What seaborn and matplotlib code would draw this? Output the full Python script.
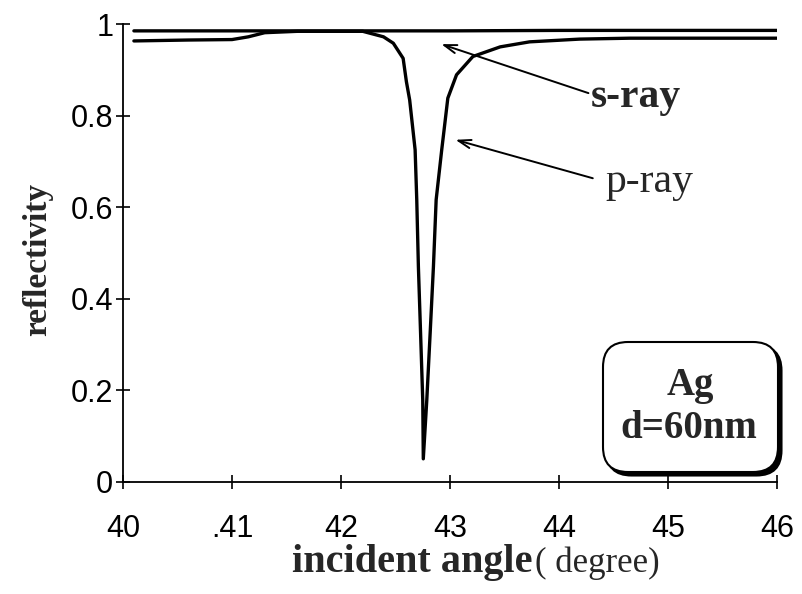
import matplotlib
matplotlib.use("Agg")
import matplotlib.pyplot as plt
import seaborn as sns
import pandas as pd
from matplotlib.patches import FancyBboxPatch

# ---- data ----
s_angle = [40.1, 41.0, 42.0, 43.0, 44.0, 45.0, 46.0]
s_refl = [0.985, 0.985, 0.985, 0.985, 0.986, 0.986, 0.986]

p_angle = [40.1, 40.6, 41.0, 41.15, 41.3, 41.6, 42.2, 42.39, 42.48, 42.57, 42.60,
           42.63, 42.68, 42.695, 42.71, 42.73, 42.75, 42.755, 42.787, 42.818,
           42.848, 42.873, 42.924, 42.94, 42.98, 43.06, 43.21, 43.46, 43.73,
           44.19, 44.65, 46.0]
p_refl = [0.963, 0.965, 0.966, 0.972, 0.981, 0.984, 0.984, 0.972, 0.958, 0.925, 0.874,
          0.834, 0.725, 0.616, 0.470, 0.325, 0.178, 0.050, 0.178, 0.325,
          0.470, 0.616, 0.725, 0.757, 0.838, 0.889, 0.929, 0.950, 0.961,
          0.967, 0.969, 0.969]

x_ticks = [40, 41, 42, 43, 44, 45, 46]
x_tick_labels = ["40", ".41", "42", "43", "44", "45", "46"]
y_ticks = [0, 0.2, 0.4, 0.6, 0.8, 1.0]
y_tick_labels = ["0", "0.2", "0.4", "0.6", "0.8", "1"]

sns.set_style("ticks")
plt.rcParams['font.family'] = ['Liberation Sans', 'DejaVu Sans']

fig = plt.figure(figsize=(8.02, 5.94), dpi=100)
W, H = 802, 594
ax = fig.add_axes([123 / W, 1 - 481.7 / H, (777 - 123) / W, (481.7 - 24) / H])

df_s = pd.DataFrame({"angle": s_angle, "refl": s_refl})
df_p = pd.DataFrame({"angle": p_angle, "refl": p_refl})
sns.lineplot(data=df_s, x="angle", y="refl", ax=ax, color="black", lw=2.4,
             estimator=None, sort=False)
sns.lineplot(data=df_p, x="angle", y="refl", ax=ax, color="black", lw=2.4,
             estimator=None, sort=False)

ax.set_xlim(40, 46)
ax.set_ylim(0, 1)
ax.set_xticks(x_ticks)
ax.set_xticklabels(x_tick_labels)
ax.set_yticks(y_ticks)
ax.set_yticklabels(y_tick_labels)
ax.set_xlabel("")
ax.set_ylabel("")
for sp in ["top", "right"]:
    ax.spines[sp].set_visible(False)
for sp in ["left", "bottom"]:
    ax.spines[sp].set_linewidth(1.3)
    ax.spines[sp].set_color("black")
ax.tick_params(axis="both", direction="inout", length=10, width=1.2,
               colors="black", labelsize=22)
ax.tick_params(axis="y", pad=2)
ax.tick_params(axis="x", pad=18)

# axis labels
fig.text(38 / W, 1 - 259 / H, "reflectivity", rotation=90, ha="center", va="center",
         family="Liberation Serif", fontweight="bold", fontsize=24)
fig.text(533 / W, 1 - 572 / H, "incident angle", ha="right", va="baseline",
         family="Liberation Serif", fontweight="bold", fontsize=29)
fig.text(535 / W, 1 - 572 / H, "( degree)", ha="left", va="baseline",
         family="Liberation Serif", fontsize=25)

# annotations
arrow = dict(arrowstyle="->,head_length=0.9,head_width=0.3", color="black", lw=1.4,
             shrinkA=0, shrinkB=0)
ax.annotate("", xy=(42.92, 0.956), xytext=(44.27, 0.849), arrowprops=arrow)
ax.annotate("", xy=(43.05, 0.747), xytext=(44.31, 0.663), arrowprops=arrow)
ax.text(44.29, 0.819, "s-ray", ha="left", va="baseline", family="Liberation Serif",
        fontweight="bold", fontsize=30)
ax.text(44.43, 0.634, "p-ray", ha="left", va="baseline", family="Liberation Serif",
        fontsize=30)

# inset box with shadow (in inches)
bx0, by0, bw, bh = 6.03, 1.22, 1.75, 1.30
shadow = FancyBboxPatch((bx0 + 0.035, by0 - 0.035), bw, bh,
                        boxstyle="round,pad=0,rounding_size=0.25",
                        transform=fig.dpi_scale_trans, fc="black", ec="black", lw=1.5)
box = FancyBboxPatch((bx0, by0), bw, bh,
                     boxstyle="round,pad=0,rounding_size=0.25",
                     transform=fig.dpi_scale_trans, fc="white", ec="black", lw=1.5)
fig.add_artist(shadow)
fig.add_artist(box)
fig.text(690 / W, 1 - 395 / H, "Ag", ha="center", va="baseline",
         family="Liberation Serif", fontweight="bold", fontsize=28)
fig.text(688.5 / W, 1 - 438 / H, "d=60nm", ha="center", va="baseline",
         family="Liberation Serif", fontweight="bold", fontsize=28)

fig.savefig("out.png", dpi=100)
